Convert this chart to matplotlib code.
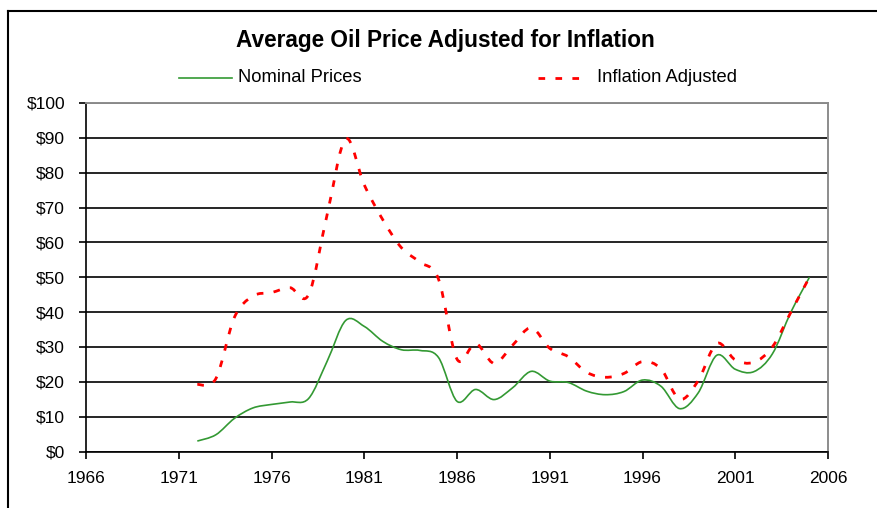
import numpy as np
import matplotlib
matplotlib.use("Agg")
import matplotlib.pyplot as plt
from matplotlib.path import Path
from matplotlib.patches import PathPatch
from matplotlib.lines import Line2D
from matplotlib.ticker import FuncFormatter

plt.rcParams['font.family'] = ['Liberation Sans', 'DejaVu Sans']

# ---- data ----
years = list(range(1972, 2006))
nominal = [3.0, 4.8, 9.5, 12.5, 13.5, 14.2, 15.2, 25.9, 37.6, 35.9,
           31.6, 29.2, 29.0, 27.0, 14.4, 17.8, 14.9, 18.3, 23.0, 20.2,
           19.8, 17.3, 16.3, 17.2, 20.5, 18.7, 12.3, 16.8, 27.6, 23.6,
           22.9, 28.0, 40.0, 50.0]
inflation = [19.2, 20.9, 38.5, 44.6, 45.6, 47.0, 45.0, 68.0, 89.7, 76.5,
             66.5, 58.5, 54.3, 49.5, 26.5, 31.0, 25.3, 30.5, 35.5, 29.6,
             27.2, 22.7, 21.3, 22.4, 25.8, 23.7, 15.0, 20.3, 31.0, 26.3,
             25.6, 30.0, 40.0, 50.0]
title = "Average Oil Price Adjusted for Inflation"
series_labels = ["Nominal Prices", "Inflation Adjusted"]
x_ticks = [1966, 1971, 1976, 1981, 1986, 1991, 1996, 2001, 2006]
y_ticks = [0, 10, 20, 30, 40, 50, 60, 70, 80, 90, 100]

GREEN = '#339933'
RED = '#FF0000'


def smooth_path(x, y):
    """Excel-style smoothed line: Bezier segments through the data points."""
    pts = np.column_stack([x, y]).astype(float)
    n = len(pts)
    verts = [pts[0]]
    codes = [Path.MOVETO]
    for i in range(n - 1):
        p0 = pts[i - 1] if i > 0 else pts[i]
        p1 = pts[i]
        p2 = pts[i + 1]
        p3 = pts[i + 2] if i + 2 < n else pts[i + 1]
        c1 = p1 + (p2 - p0) / 6.0
        c2 = p2 - (p3 - p1) / 6.0
        verts += [c1, c2, p2]
        codes += [Path.CURVE4] * 3
    return Path(verts, codes)


W, H = 878, 508
fig = plt.figure(figsize=(W / 100, H / 100), dpi=100)
fig.patch.set_facecolor('white')

L, R, T, B = 86, 828, 103, 451.5
ax = fig.add_axes([L / W, 1 - B / H, (R - L) / W, (B - T) / H])

red_style = dict(color=RED, lw=2.0, linestyle=(0, (2.4, 3.7)))
green_style = dict(color=GREEN, lw=1.2, linestyle='-')

ax.add_patch(PathPatch(smooth_path(years, nominal), fill=False,
                       capstyle='butt', zorder=3, **green_style))
ax.add_patch(PathPatch(smooth_path(years, inflation), fill=False,
                       capstyle='butt', zorder=4, **red_style))

ax.set_xlim(x_ticks[0], x_ticks[-1])
ax.set_ylim(y_ticks[0], y_ticks[-1])
ax.set_xticks(x_ticks)
ax.set_yticks(y_ticks)
ax.yaxis.set_major_formatter(FuncFormatter(lambda v, p: f"${v:.0f}"))

ax.set_axisbelow(True)
ax.yaxis.grid(True, color='black', lw=1.2)
ax.xaxis.grid(False)

for s in ('left', 'bottom'):
    ax.spines[s].set_color('black')
    ax.spines[s].set_linewidth(1.2)
for s in ('top', 'right'):
    ax.spines[s].set_color('#8c8c8c')
    ax.spines[s].set_linewidth(1.4)

ax.tick_params(axis='y', direction='out', length=5, width=1.2,
               labelsize=12.5, pad=10, colors='black')
ax.tick_params(axis='x', direction='out', length=5, width=1.2,
               labelsize=12.5, pad=9, colors='black')

# legend (drawn as a header row, as in the reference)
LEG_Y = 1 - 78 / H
fig.add_artist(Line2D([179 / W, 232 / W], [LEG_Y, LEG_Y],
                      transform=fig.transFigure, **green_style))
fig.text(238 / W, LEG_Y, series_labels[0], ha='left', va='center',
         fontsize=13.2)
fig.add_artist(Line2D([538 / W, 582 / W], [LEG_Y, LEG_Y],
                      transform=fig.transFigure, **red_style))
fig.text(597 / W, LEG_Y, series_labels[1], ha='left', va='center',
         fontsize=13.2)

fig.text(445.5 / W, 1 - 41 / H, title, ha='center', va='center',
         fontsize=16.3, fontweight='bold')

# outer chart frame (top and left edges visible)
fig.add_artist(Line2D([8 / W, 1.0], [1 - 11 / H, 1 - 11 / H],
                      transform=fig.transFigure, color='black', lw=1.5))
fig.add_artist(Line2D([8 / W, 8 / W], [0.0, 1 - 11 / H],
                      transform=fig.transFigure, color='black', lw=1.5))

fig.savefig('out.png', dpi=100)
